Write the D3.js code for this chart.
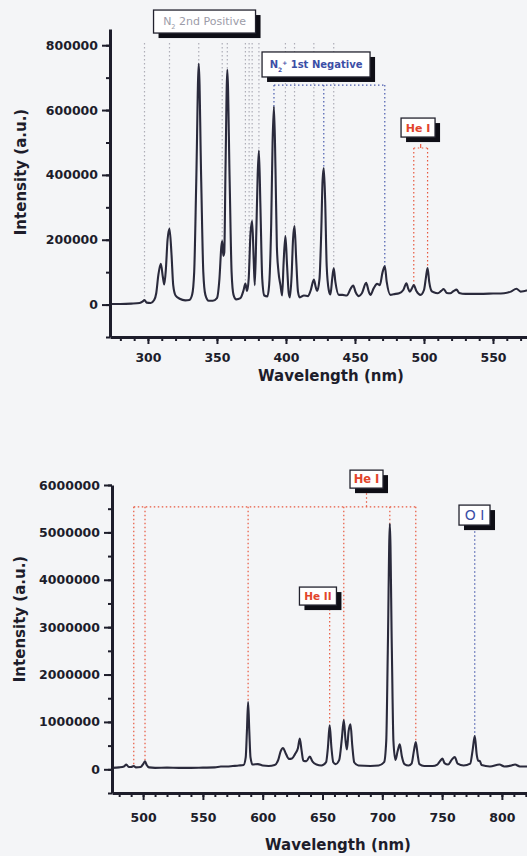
<!DOCTYPE html>
<html>
<head>
<meta charset="utf-8">
<script src="https://cdn.jsdelivr.net/npm/d3@7"></script>
<style>
  body { margin: 0; background: #f4f5f7; }
  svg { display: block; font-family: "DejaVu Sans", sans-serif; }
</style>
</head>
<body>
<svg id="chart" width="527" height="856"></svg>
<script>
'use strict';

// [wavelength nm, intensity a.u.] (N2 bands region)
const upperSpectrum = [
  [273, 2000], [280, 2000], [288, 3000], [294, 5000], [296, 9000], [297.5, 14000], [299, 6000],
  [302, 5000], [304.5, 14000], [306, 35000], [307.5, 90000], [309.3, 126000], [310.8, 85000],
  [311.8, 62000], [313, 110000], [314.2, 200000], [315.6, 234000], [317, 160000], [318.3, 60000],
  [320, 28000], [323, 18000], [327, 13000], [330, 14000], [332, 30000], [333.5, 100000],
  [335, 380000], [336.8, 743000], [338.6, 380000], [340.1, 100000], [341.6, 30000], [344, 12000],
  [347, 12000], [350, 20000], [351.8, 80000], [353.2, 180000], [353.8, 196000], [354.6, 150000],
  [355.3, 160000], [356.2, 420000], [357.5, 724000], [359.2, 380000], [360.6, 100000], [362, 30000],
  [364, 16000], [367, 20000], [369.3, 45000], [370.6, 65000], [371.8, 42000], [373, 80000],
  [374.3, 220000], [375.5, 258000], [376.6, 140000], [377.4, 60000], [378.5, 220000],
  [379.5, 400000], [380.4, 475000], [381.5, 300000], [382.8, 80000], [384.3, 28000], [386.5, 25000],
  [387.8, 60000], [389.3, 250000], [390.3, 500000], [391.3, 611000], [392.4, 420000], [393.4, 180000],
  [394.6, 100000], [396, 60000], [397.2, 28000], [398.3, 130000], [399.6, 211000], [400.8, 120000],
  [402, 35000], [402.8, 22000], [404.1, 90000], [405.1, 200000], [406.2, 242000], [407.4, 140000],
  [408.7, 40000], [410, 22000], [413, 28000], [416, 26000], [418, 45000], [420.2, 77000],
  [421.5, 55000], [422.6, 42000], [424.3, 80000], [425.6, 230000], [426.5, 380000], [427.4, 421000],
  [428.4, 320000], [429.5, 120000], [431, 45000], [432.2, 31000], [433.5, 80000], [434.6, 112000],
  [435.8, 70000], [438.3, 30000], [441, 30000], [444, 28000], [447, 50000], [448.7, 59000],
  [450.5, 38000], [452.8, 26000], [455, 35000], [458.1, 67000], [460, 40000], [461.2, 30000],
  [463.5, 50000], [466, 64000], [468, 60000], [470, 100000], [471.6, 118000], [473, 70000],
  [475.7, 30000], [478, 32000], [482, 35000], [485, 45000], [487.3, 66000], [488.5, 50000],
  [489.7, 40000], [491.5, 52000], [492.6, 60000], [494.5, 42000], [497.5, 30000], [500, 45000],
  [501.3, 80000], [502.6, 113000], [503.8, 70000], [505.5, 42000], [507.1, 38000], [510, 35000],
  [512.5, 42000], [514.3, 48000], [516.5, 36000], [519, 35000], [521.5, 42000], [523.6, 46000],
  [525.5, 36000], [530, 33000], [540, 33000], [550, 34000], [558, 35000], [563, 40000],
  [567, 49000], [570, 40000], [573, 42000], [577, 45000], [582, 42000], [590, 40000], [600, 40000]
];

// [wavelength nm, intensity a.u.] (He / O lines)
const lowerSpectrum = [
  [474, 30000], [480, 40000], [484, 60000], [486, 100000], [488, 50000], [490, 50000],
  [492.2, 70000], [494, 40000], [498, 50000], [500.3, 120000], [501.6, 170000], [503, 90000],
  [505, 40000], [510, 30000], [520, 35000], [530, 30000], [540, 30000], [550, 35000], [560, 40000],
  [565, 60000], [570, 60000], [575, 70000], [580, 80000], [584, 90000], [585.8, 250000],
  [586.8, 800000], [587.8, 1420000], [588.8, 800000], [589.8, 250000], [591.5, 100000],
  [596, 110000], [600, 80000], [605, 70000], [610, 90000], [613, 200000], [615, 380000],
  [617, 450000], [619, 350000], [622, 220000], [624.5, 230000], [627, 320000], [629.5, 450000],
  [631, 650000], [632.5, 400000], [634, 180000], [636.5, 170000], [639.4, 270000], [641.5, 170000],
  [645, 100000], [649, 80000], [653, 150000], [654.5, 450000], [656, 930000], [657.5, 450000],
  [659, 150000], [661, 110000], [664, 200000], [666.2, 650000], [667.8, 1040000], [669.3, 600000],
  [670.4, 420000], [671.8, 800000], [673.4, 950000], [674.9, 500000], [676.5, 150000], [680, 80000],
  [690, 70000], [697, 80000], [701.5, 150000], [703.3, 600000], [704.6, 2500000], [706.3, 5180000],
  [708, 2500000], [709.3, 600000], [711, 200000], [712.8, 380000], [714.6, 530000], [716.3, 280000],
  [718.5, 110000], [722, 80000], [724.5, 120000], [726.5, 400000], [728, 575000], [729.5, 320000],
  [731, 110000], [735, 70000], [742, 70000], [746, 100000], [748.5, 180000], [750.3, 225000],
  [752, 130000], [755, 100000], [758, 200000], [760.6, 260000], [763, 120000], [768, 80000],
  [773.5, 120000], [775.5, 400000], [777.3, 700000], [779, 300000], [780.2, 180000],
  [781.5, 175000], [783, 90000], [790, 60000], [798, 100000], [802, 60000], [808, 80000],
  [811, 100000], [815, 60000], [822, 60000], [830, 80000], [850, 80000]
];

const upperXTicks = [300, 350, 400, 450, 500, 550];
const upperYTicks = [0, 200000, 400000, 600000, 800000];
const lowerXTicks = [500, 550, 600, 650, 700, 750, 800];
const lowerYTicks = [0, 1000000, 2000000, 3000000, 4000000, 5000000, 6000000];

// assigned emission lines (nm)
const n2SecondPositiveLines = [297.5, 315.6, 336.8, 353.8, 357.5, 370.6, 373.3, 375.5, 380.4, 399.6, 406.2, 420.2, 434.6];
const n2FirstNegativeLines = [391.3, 427.4, 471.6];
const upperHeILines = [492.6, 502.6];
const lowerHeILines = [492.2, 501.6, 587.8, 667.8, 706.3, 728];
const lowerHeIILines = [656];
const lowerOILines = [777.3];

// label anchors in data units: [wavelength, intensity]
const upperLabelAnchors = { n2pos: [341, 873000], n2neg: [421.8, 740600], heI: [495.7, 546000] };
const upperLineTops = { n2pos: 807000, n2neg: 677000, heI: 483000 };
const lowerLabelAnchors = { heI: [686.8, 6124000], heII: [646.2, 3656000], oI: [777.1, 5365000] };
const lowerLineTops = { heI: 5540000, heII: 3470000, oI: 5110000 };

const svg = d3.select('#chart');
const ink = '#1d1d2b';
const gray = '#aeaeb8';
const blue = '#4a5cae';
const red = '#e8583f';
const font = '"DejaVu Sans", sans-serif';

function valueAt(data, w) {
  const i = d3.bisector(d => d[0]).left(data, w);
  if (i <= 0) return data[0][1];
  if (i >= data.length) return data[data.length - 1][1];
  const a = data[i - 1], b = data[i];
  return a[1] + (w - a[0]) / (b[0] - a[0]) * (b[1] - a[1]);
}

function drawAxes(g, x, y, opts) {
  const [x0] = x.range();
  const yBottom = y.range()[0];

  g.append('g')
    .attr('transform', 'translate(0,' + yBottom + ')')
    .call(d3.axisBottom(x).tickValues(d3.range(opts.xMinorStart, opts.xMinorEnd, 10)).tickSize(4).tickFormat('').tickSizeOuter(0))
    .call(s => s.select('.domain').remove());

  g.append('g')
    .attr('class', 'x-axis')
    .attr('transform', 'translate(0,' + yBottom + ')')
    .call(d3.axisBottom(x).tickValues(opts.xTicks).tickSize(7).tickPadding(opts.xPad).tickSizeOuter(0));

  g.append('g')
    .attr('transform', 'translate(' + x0 + ',0)')
    .call(d3.axisLeft(y).tickValues(opts.yMinor).tickSize(4).tickFormat('').tickSizeOuter(0))
    .call(s => s.select('.domain').remove());

  g.append('g')
    .attr('class', 'y-axis')
    .attr('transform', 'translate(' + x0 + ',0)')
    .call(d3.axisLeft(y).tickValues(opts.yTicks).tickSize(8).tickPadding(4).tickFormat(d3.format('d')).tickSizeOuter(0));

  g.selectAll('.domain').attr('stroke', ink).attr('stroke-width', 3);
  g.selectAll('.tick line').attr('stroke', ink).attr('stroke-width', 2);
  g.selectAll('.tick text')
    .attr('fill', ink)
    .style('font-family', font)
    .style('font-size', '12.5px')
    .style('font-weight', 'bold');

  g.append('text')
    .attr('x', opts.xTitle[0]).attr('y', opts.xTitle[1])
    .attr('text-anchor', 'middle')
    .attr('fill', ink)
    .style('font-size', '15px').style('font-weight', 'bold')
    .text('Wavelength (nm)');

  g.append('text')
    .attr('transform', 'translate(' + opts.yTitle[0] + ',' + opts.yTitle[1] + ') rotate(-90)')
    .attr('text-anchor', 'middle')
    .attr('dy', '0.35em')
    .attr('fill', ink)
    .style('font-size', '15px').style('font-weight', 'bold')
    .text('Intensity (a.u.)');
}

function drawSpectrum(g, x, y, data) {
  const line = d3.line().x(d => x(d[0])).y(d => y(d[1])).curve(d3.curveMonotoneX);
  g.append('path')
    .datum(data)
    .attr('d', line)
    .attr('fill', 'none')
    .attr('stroke', '#2a2a3c')
    .attr('stroke-width', 2.1)
    .attr('stroke-linejoin', 'round');
}

function drawDropLines(g, x, y, data, waves, top, color) {
  g.selectAll(null)
    .data(waves)
    .enter().append('line')
    .attr('x1', d => x(d)).attr('x2', d => x(d))
    .attr('y1', y(top))
    .attr('y2', d => y(valueAt(data, d)))
    .attr('stroke', color)
    .attr('stroke-width', 1.2)
    .attr('stroke-dasharray', '1.5,2.5');
}

function drawBracket(g, x, y, from, to, top, color) {
  g.append('line')
    .attr('x1', x(from)).attr('x2', x(to))
    .attr('y1', y(top)).attr('y2', y(top))
    .attr('stroke', color)
    .attr('stroke-width', 1.2)
    .attr('stroke-dasharray', '1.5,2.5');
}

function drawLabel(g, x, y, anchor, w, h, color, size, weight, parts) {
  const label = g.append('g')
    .attr('class', 'label')
    .attr('transform', 'translate(' + (x(anchor[0]) - w / 2) + ',' + (y(anchor[1]) - h / 2) + ')');
  label.append('rect')
    .attr('class', 'label-shadow')
    .attr('x', 5).attr('y', 5)
    .attr('width', w).attr('height', h)
    .style('fill', '#0e0e16')
    .style('stroke', 'none');
  label.append('rect')
    .attr('width', w).attr('height', h)
    .style('fill', '#ffffff')
    .style('stroke', '#22222e')
    .style('stroke-width', 1.3);
  const t = label.append('text')
    .attr('x', w / 2).attr('y', h / 2)
    .attr('dy', '0.36em')
    .attr('text-anchor', 'middle')
    .attr('fill', color)
    .style('font-size', size + 'px')
    .style('font-weight', weight);
  parts.forEach(p => {
    const s = t.append('tspan').text(p.text);
    if (p.shift) s.attr('baseline-shift', p.shift).style('font-size', (size * 0.6) + 'px');
  });
}

// ---------- upper panel ----------
const xUp = d3.scaleLinear().domain([272.5, 600]).range([110, 562]);
const yUp = d3.scaleLinear().domain([-100000, 850000]).range([337, 29]);
const gUp = svg.append('g');

drawDropLines(gUp, xUp, yUp, upperSpectrum, n2SecondPositiveLines, upperLineTops.n2pos, gray);
drawDropLines(gUp, xUp, yUp, upperSpectrum, n2FirstNegativeLines, upperLineTops.n2neg, blue);
drawBracket(gUp, xUp, yUp, d3.min(n2FirstNegativeLines), d3.max(n2FirstNegativeLines), upperLineTops.n2neg, blue);
drawDropLines(gUp, xUp, yUp, upperSpectrum, upperHeILines, upperLineTops.heI, red);
drawBracket(gUp, xUp, yUp, d3.min(upperHeILines), d3.max(upperHeILines), upperLineTops.heI, red);
gUp.append('line')
  .attr('x1', xUp(d3.mean(upperHeILines))).attr('x2', xUp(d3.mean(upperHeILines)))
  .attr('y1', yUp(upperLineTops.heI)).attr('y2', yUp(upperLineTops.heI) - 4)
  .attr('stroke', red).attr('stroke-width', 1.2);

drawSpectrum(gUp, xUp, yUp, upperSpectrum);
drawAxes(gUp, xUp, yUp, {
  xTicks: upperXTicks, xMinorStart: 280, xMinorEnd: 600, xPad: 9,
  yTicks: upperYTicks, yMinor: d3.range(-100000, 850000, 100000),
  xTitle: [331, 381], yTitle: [21, 172]
});

drawLabel(gUp, xUp, yUp, upperLabelAnchors.n2pos, 102, 23, '#9c9ca8', 11, 'normal',
  [{ text: 'N' }, { text: '2', shift: 'sub' }, { text: ' 2nd Positive' }]);
drawLabel(gUp, xUp, yUp, upperLabelAnchors.n2neg, 108, 25, '#3b4ea6', 10, 'bold',
  [{ text: 'N' }, { text: '2', shift: 'sub' }, { text: '+', shift: 'super' }, { text: ' 1st Negative' }]);
drawLabel(gUp, xUp, yUp, upperLabelAnchors.heI, 34, 19, '#e2452c', 11, 'bold', [{ text: 'He I' }]);

// ---------- lower panel ----------
const xLo = d3.scaleLinear().domain([474, 850]).range([112, 561.7]);
const yLo = d3.scaleLinear().domain([-500000, 6000000]).range([793, 485]);
const gLo = svg.append('g');

drawDropLines(gLo, xLo, yLo, lowerSpectrum, lowerHeILines, lowerLineTops.heI, red);
drawBracket(gLo, xLo, yLo, d3.min(lowerHeILines), d3.max(lowerHeILines), lowerLineTops.heI, red);
gLo.append('line')
  .attr('x1', xLo(lowerLabelAnchors.heI[0])).attr('x2', xLo(lowerLabelAnchors.heI[0]))
  .attr('y1', yLo(lowerLineTops.heI)).attr('y2', yLo(lowerLabelAnchors.heI[1]) + 9)
  .attr('stroke', red).attr('stroke-width', 1.2).attr('stroke-dasharray', '1.5,2.5');
drawDropLines(gLo, xLo, yLo, lowerSpectrum, lowerHeIILines, lowerLineTops.heII, red);
drawDropLines(gLo, xLo, yLo, lowerSpectrum, lowerOILines, lowerLineTops.oI, blue);

drawSpectrum(gLo, xLo, yLo, lowerSpectrum);
drawAxes(gLo, xLo, yLo, {
  xTicks: lowerXTicks, xMinorStart: 480, xMinorEnd: 850, xPad: 13,
  yTicks: lowerYTicks, yMinor: d3.range(-500000, 6000001, 500000),
  xTitle: [338, 850], yTitle: [20, 619]
});

drawLabel(gLo, xLo, yLo, lowerLabelAnchors.heI, 33, 18, '#e2452c', 11.5, 'bold', [{ text: 'He I' }]);
drawLabel(gLo, xLo, yLo, lowerLabelAnchors.heII, 37, 18, '#e2452c', 10.5, 'bold', [{ text: 'He II' }]);
drawLabel(gLo, xLo, yLo, lowerLabelAnchors.oI, 31, 20, '#3b4ea6', 14, 'normal', [{ text: 'O I' }]);
</script>
</body>
</html>
